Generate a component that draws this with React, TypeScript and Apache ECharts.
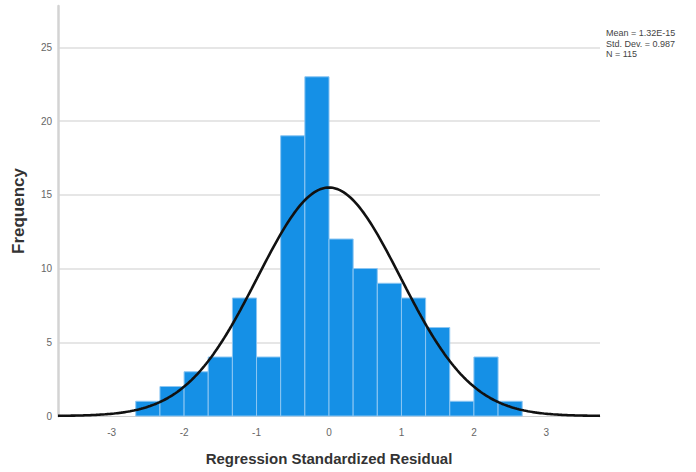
import React, { useEffect, useRef } from "react";
import * as echarts from "echarts";

// Histogram bins (lower edges) and counts
const binLowerEdges = [-2.667, -2.333, -2.0, -1.667, -1.333, -1.0, -0.667, -0.333, 0.0, 0.333, 0.667, 1.0, 1.333, 1.667, 2.0, 2.333];
const binWidth = 0.3333;
const counts = [1, 2, 3, 4, 8, 4, 19, 23, 12, 10, 9, 8, 6, 1, 4, 1];
const xTickValues = [-3, -2, -1, 0, 1, 2, 3];
const yTickValues = [0, 5, 10, 15, 20, 25];

// Fitted normal curve parameters (from the chart's legend)
const meanValue = 0; // 1.32E-15
const stdDev = 0.987;
const nObs = 115;
const legendLines = ["Mean = 1.32E-15", "Std. Dev. = 0.987", "N = 115"];

const X_MIN = -3.74;
const X_MAX = 3.74;

export default function App() {
  const ref = useRef<HTMLDivElement>(null);
  useEffect(() => {
    if (!ref.current) return;
    const chart = echarts.init(ref.current, undefined, { renderer: "svg" });

    const barData = binLowerEdges.map((x0, i) => [x0, x0 + binWidth, counts[i]]);
    const curve: number[][] = [];
    const steps = 300;
    for (let i = 0; i <= steps; i++) {
      const x = X_MIN + ((X_MAX - X_MIN) * i) / steps;
      const z = (x - meanValue) / stdDev;
      const y = (nObs * binWidth) / (stdDev * Math.sqrt(2 * Math.PI)) * Math.exp(-0.5 * z * z);
      curve.push([x, y]);
    }

    const font = "Liberation Sans";
    chart.setOption({
      animation: false,
      grid: { left: 58, right: 96, top: 6, bottom: 56 },
      xAxis: {
        type: "value",
        min: X_MIN,
        max: X_MAX,
        name: "Regression Standardized Residual",
        nameLocation: "middle",
        nameGap: 35,
        nameTextStyle: { fontFamily: font, fontSize: 15, fontWeight: "bold", color: "#333" },
        axisLine: { show: true, lineStyle: { color: "#d0d0d0", width: 1 } },
        axisTick: { show: false },
        splitLine: { show: false },
        axisLabel: {
          customValues: xTickValues,
          fontFamily: font,
          fontSize: 10,
          color: "#666",
          margin: 11,
        },
      },
      yAxis: {
        type: "value",
        min: 0,
        max: 27.8,
        interval: 5,
        name: "Frequency",
        nameLocation: "middle",
        nameGap: 31,
        nameTextStyle: { fontFamily: font, fontSize: 17, fontWeight: "bold", color: "#333" },
        axisLine: { show: true, onZero: false, lineStyle: { color: "#d3d3d3", width: 2.5 } },
        axisTick: { show: false },
        splitLine: { show: true, showMaxLine: false, showMinLine: false, lineStyle: { color: "#dedede", width: 1.5 } },
        axisLabel: {
          customValues: yTickValues,
          fontFamily: font,
          fontSize: 10,
          color: "#666",
          margin: 6,
        },
      },
      graphic: [
        {
          type: "text",
          left: 606,
          top: 28,
          style: {
            text: legendLines.join("\n"),
            font: `9px ${font}`,
            fill: "#444",
            lineHeight: 10.5,
          },
        },
      ],
      series: [
        {
          type: "custom",
          data: barData,
          renderItem: (params: any, api: any) => {
            const p0 = api.coord([api.value(0), api.value(2)]);
            const p1 = api.coord([api.value(1), 0]);
            return {
              type: "rect",
              shape: { x: p0[0], y: p0[1], width: p1[0] - p0[0], height: p1[1] - p0[1] },
              style: { fill: "#1590e6", stroke: "#8cc6f2", lineWidth: 1 },
            };
          },
          z: 2,
        },
        {
          type: "line",
          data: curve,
          showSymbol: false,
          symbol: "none",
          smooth: false,
          lineStyle: { color: "#111", width: 2.6 },
          z: 3,
        },
      ],
    });
    return () => chart.dispose();
  }, []);
  return <div ref={ref} style={{ width: 696, height: 472, position: "absolute", left: 0, top: 0 }} />;
}
